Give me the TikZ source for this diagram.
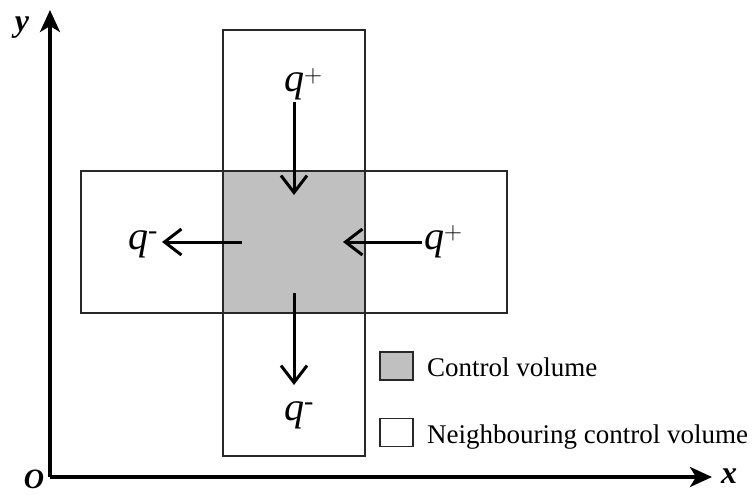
\documentclass[tikz,border=0pt]{standalone}
\usepackage{fontspec}
\setmainfont{Liberation Serif}
\usetikzlibrary{arrows.meta,positioning}
\definecolor{cvgray}{RGB}{192,192,192}
\definecolor{cvedge}{RGB}{40,40,40}
\tikzset{
  cv axis/.style={-{Stealth[length=22pt,width=20pt,inset=6pt]},line width=3.5pt,draw=black},
  cv flux/.style={-{Straight Barb[length=17pt,width=26pt]},line width=3pt,draw=black},
  cv neighbour/.style={draw=cvedge,line width=1.4pt,fill=white},
  cv control/.style={draw=cvedge,line width=1.4pt,fill=cvgray},
  cv key/.style={draw=cvedge,line width=1.4pt,minimum width=33pt,minimum height=28pt,inner sep=0pt},
  cv q/.style={inner sep=0pt,font=\fontsize{40}{44}\selectfont\itshape},
  cv axis label/.style={inner sep=0pt,font=\fontsize{32}{36}\selectfont\bfseries\itshape},
  cv legend/.style={inner sep=0pt,font=\fontsize{27}{32}\selectfont}
}
\begin{document}
\begin{tikzpicture}[x=1pt,y=-1pt]
  \useasboundingbox[fill=white] (0,0) rectangle (752,495);

  % neighbouring volumes and the control volume
  \draw[cv neighbour] (223,30) rectangle (365,456);
  \draw[cv neighbour] (81,171) rectangle (507,313);
  \draw[cv control] (223,171) rectangle (365,313);

  % axes
  \coordinate (o) at (50,477);
  \coordinate (ytip) at (50,10);
  \coordinate (xtip) at (712,477);
  \draw[cv axis] (o) -- (ytip);
  \draw[cv axis] (o) -- (xtip);
  \node[cv axis label] (ylab) at (22,28) {y};
  \node[cv axis label] (xlab) at (729,476) {x};
  \node[cv axis label,font=\fontsize{28}{32}\selectfont\bfseries\itshape] (olab) at (34,479) {O};

  % fluxes
  \node[cv q,anchor=base west] (qtop) at (284,92) {q$^{+}$};
  \node[cv q,anchor=base west] (qleft) at (128,249) {q\textsuperscript{-}};
  \node[cv q,anchor=base west] (qright) at (424,249) {q$^{+}$};
  \node[cv q,anchor=base west] (qbottom) at (284,420) {q\textsuperscript{-}};
  \coordinate (toptail) at (294,102);
  \coordinate (toptip) at (294,195);
  \coordinate (lefttail) at (242,242);
  \coordinate (lefttip) at (162,242);
  \coordinate (righttail) at (422,242);
  \coordinate (righttip) at (343,242);
  \coordinate (bottomtail) at (294,293);
  \coordinate (bottomtip) at (294,385);
  \draw[cv flux] (toptail) -- (toptip);
  \draw[cv flux] (lefttail) -- (lefttip);
  \draw[cv flux] (righttail) -- (righttip);
  \draw[cv flux] (bottomtail) -- (bottomtip);

  % legend
  \node[cv key,fill=cvgray] (keycv) at (396.5,366) {};
  \node[cv key,fill=white] (keyncv) at (396.5,432.5) {};
  \node[cv legend,anchor=base west] (txtcv) at (427,376) {Control volume};
  \node[cv legend,anchor=base west] (txtncv) at (427,443) {Neighbouring control volume};
\end{tikzpicture}
\end{document}
